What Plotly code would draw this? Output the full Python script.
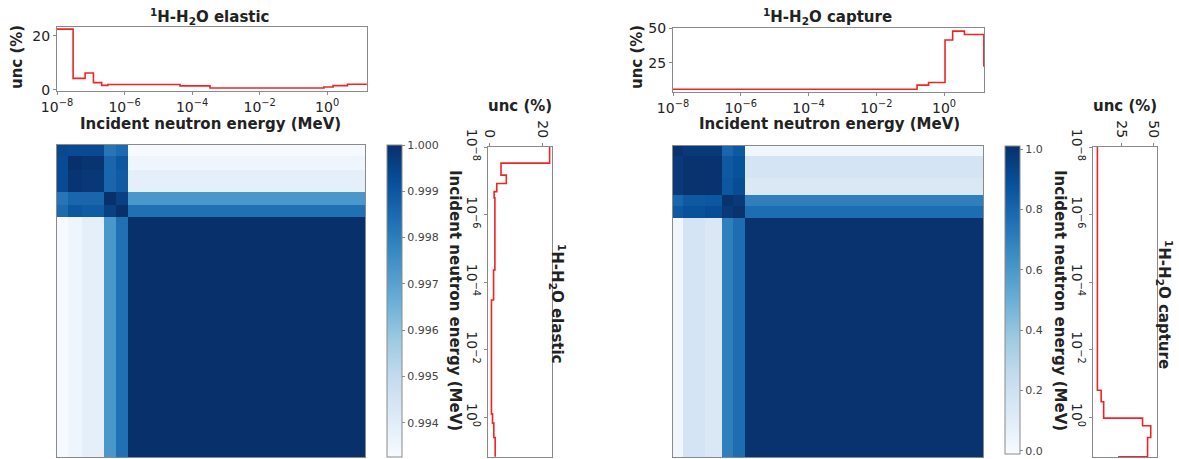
import plotly.graph_objects as go

W, H = 1179, 459

# ---------------- data ----------------
# Uncertainty step data (step start energies in MeV, unc in %)
elastic_energy = [1e-8, 3.0e-8, 6.8e-8, 1.2e-7, 2.1e-7, 3.2e-7, 4.4e-5, 3.4e-4, 0.8, 1.5, 4.0, 15.0]
elastic_unc = [22.5, 4.2, 6.2, 2.6, 1.6, 1.9, 1.4, 0.6, 1.0, 1.5, 2.0, 2.0]

capture_energy = [1e-8, 0.16, 0.35, 1.07, 1.8, 4.0, 15.0]
capture_unc = [5.5, 8.5, 10.5, 41.5, 48.0, 45.5, 22.0]

# Correlation matrices on group structure (group edges in group-index units)
elastic_group_edges = [0, 3.6, 8.0, 15.2, 19.1, 23.0, 100]
elastic_corr = [
    [0.9994, 0.9993, 0.9993, 0.9982, 0.9985, 0.99330],
    [0.9993, 1.0000, 0.9999, 0.9986, 0.9990, 0.99355],
    [0.9993, 0.9999, 0.9998, 0.9986, 0.9989, 0.99390],
    [0.9982, 0.9986, 0.9986, 1.0000, 0.9996, 0.99730],
    [0.9985, 0.9990, 0.9989, 0.9996, 1.0000, 0.99835],
    [0.99330, 0.99355, 0.99390, 0.99730, 0.99835, 1.0000],
]

capture_group_edges = [0, 3.2, 10.3, 15.8, 19.4, 23.2, 100]
capture_corr = [
    [1.00, 0.97, 0.97, 0.80, 0.85, 0.03],
    [0.97, 1.00, 1.00, 0.85, 0.88, 0.17],
    [0.97, 1.00, 1.00, 0.86, 0.90, 0.14],
    [0.80, 0.85, 0.86, 1.00, 0.97, 0.70],
    [0.85, 0.88, 0.90, 0.97, 1.00, 0.77],
    [0.03, 0.17, 0.14, 0.70, 0.77, 1.00],
]

elastic_cbar_ticks = [0.994, 0.995, 0.996, 0.997, 0.998, 0.999, 1.000]
capture_cbar_ticks = [0.0, 0.2, 0.4, 0.6, 0.8, 1.0]
energy_tickvals = [1e-8, 1e-6, 1e-4, 1e-2, 1e0]
energy_ticktext = ["10<sup>−8</sup>", "10<sup>−6</sup>", "10<sup>−4</sup>", "10<sup>−2</sup>", "10<sup>0</sup>"]

elastic_title = "<b><sup>1</sup>H-H<sub>2</sub>O elastic</b>"
capture_title = "<b><sup>1</sup>H-H<sub>2</sub>O capture</b>"
energy_label = "<b>Incident neutron energy (MeV)</b>"
unc_label = "<b>unc (%)</b>"

# ---------------- style ----------------
FONT = "DejaVu Sans"
RED = "#f02424"
FRAME = "#8a8a8a"
TXT = "#222222"
BLUES = [
    [0.0, "rgb(247,251,255)"], [0.125, "rgb(222,235,247)"], [0.25, "rgb(198,219,239)"],
    [0.375, "rgb(158,202,225)"], [0.5, "rgb(107,174,214)"], [0.625, "rgb(66,146,198)"],
    [0.75, "rgb(33,113,181)"], [0.875, "rgb(8,81,156)"], [1.0, "rgb(8,48,107)"],
]
LOG_RANGE = [-8, 1.18]


def fx(p):
    return p / W


def fy(p):
    return 1 - p / H


def frame(**kw):
    d = dict(showline=True, mirror=True, linecolor=FRAME, linewidth=1, showgrid=False,
             zeroline=False, ticks="outside", ticklen=3, tickcolor=FRAME,
             tickfont=dict(family=FONT, size=14, color=TXT))
    d.update(kw)
    return d


fig = go.Figure()

panels = [
    dict(energy=elastic_energy, unc=elastic_unc, edges=elastic_group_edges, corr=elastic_corr,
         zmin=0.99326, zmax=1.0, cticks=elastic_cbar_ticks, cfmt=".3f",
         top_x=(57, 367), top_y=(27, 91), hm_x=(57, 365), hm_y=(145, 457),
         cb_x=387, cb_y=(145, 457), side_x=(488, 552), side_y=(147, 457),
         unc_top_range=[-0.5, 23.3], unc_ticks=[0, 20], title=elastic_title,
         title_x=210, ylab_x=17, xlab_x=210, elab_x=455, side_unc_x=520, side_title_x=558),
    dict(energy=capture_energy, unc=capture_unc, edges=capture_group_edges, corr=capture_corr,
         zmin=-0.01, zmax=1.01, cticks=capture_cbar_ticks, cfmt=".1f",
         top_x=(673, 984), top_y=(28, 92), hm_x=(673, 983), hm_y=(146, 457),
         cb_x=1005, cb_y=(146, 454), side_x=(1093, 1157), side_y=(147, 457),
         unc_top_range=[3.5, 50.3], unc_ticks=[25, 50], title=capture_title,
         title_x=828, ylab_x=637, xlab_x=829, elab_x=1060, side_unc_x=1125, side_title_x=1165),
]

layout = dict(width=W, height=H, margin=dict(l=0, r=0, t=0, b=0, autoexpand=False),
              paper_bgcolor="white", plot_bgcolor="white", showlegend=False,
              font=dict(family=FONT, color=TXT))
annotations = []

for i, p in enumerate(panels):
    k = 3 * i
    ax_top, ax_hm, ax_side = k + 1, k + 2, k + 3

    # top uncertainty histogram
    fig.add_trace(go.Scatter(x=p["energy"], y=p["unc"], mode="lines", line_shape="hv",
                             line=dict(color=RED, width=1.6),
                             xaxis=f"x{ax_top}", yaxis=f"y{ax_top}", cliponaxis=True))
    layout[f"xaxis{ax_top}"] = frame(type="log", range=LOG_RANGE, domain=[fx(p["top_x"][0]), fx(p["top_x"][1])],
                                     anchor=f"y{ax_top}", tickvals=energy_tickvals, ticktext=energy_ticktext,
                                     automargin=False)
    layout[f"yaxis{ax_top}"] = frame(range=p["unc_top_range"], domain=[fy(p["top_y"][1]), fy(p["top_y"][0])],
                                     anchor=f"x{ax_top}", tickvals=p["unc_ticks"], automargin=False)

    # correlation heatmap
    fig.add_trace(go.Heatmap(x=p["edges"], y=p["edges"], z=p["corr"], colorscale=BLUES,
                             zmin=p["zmin"], zmax=p["zmax"], xaxis=f"x{ax_hm}", yaxis=f"y{ax_hm}",
                             colorbar=dict(x=fx(p["cb_x"]), xanchor="left", thickness=15,
                                           lenmode="pixels", len=p["cb_y"][1] - p["cb_y"][0],
                                           y=fy(p["cb_y"][0]), yanchor="top", xpad=0, ypad=0,
                                           tickvals=p["cticks"], tickformat=p["cfmt"],
                                           ticks="outside", ticklen=3, tickcolor=FRAME,
                                           outlinecolor=FRAME, outlinewidth=1,
                                           tickfont=dict(family=FONT, size=11, color="#444444"))))
    layout[f"xaxis{ax_hm}"] = dict(domain=[fx(p["hm_x"][0]), fx(p["hm_x"][1])], range=[0, 100],
                                   anchor=f"y{ax_hm}", showticklabels=False, ticks="",
                                   showline=True, mirror=True, linecolor=FRAME, linewidth=1,
                                   showgrid=False, zeroline=False)
    layout[f"yaxis{ax_hm}"] = dict(domain=[fy(p["hm_y"][1]), fy(p["hm_y"][0])], range=[100, 0],
                                   anchor=f"x{ax_hm}", showticklabels=False, ticks="",
                                   showline=True, mirror=True, linecolor=FRAME, linewidth=1,
                                   showgrid=False, zeroline=False)

    # side (rotated) uncertainty plot
    fig.add_trace(go.Scatter(x=p["unc"], y=p["energy"], mode="lines", line_shape="vh",
                             line=dict(color=RED, width=1.6),
                             xaxis=f"x{ax_side}", yaxis=f"y{ax_side}"))
    side_range = [-0.7, 23.4] if i == 0 else [2.0, 53.0]
    layout[f"xaxis{ax_side}"] = frame(range=side_range, domain=[fx(p["side_x"][0]), fx(p["side_x"][1])],
                                      anchor=f"y{ax_side}", side="top", tickvals=p["unc_ticks"],
                                      tickangle=90, automargin=False)
    layout[f"yaxis{ax_side}"] = frame(type="log", range=[LOG_RANGE[1], LOG_RANGE[0]],
                                      domain=[fy(p["side_y"][1]), fy(p["side_y"][0])],
                                      anchor=f"x{ax_side}", tickvals=energy_tickvals,
                                      ticktext=energy_ticktext, tickangle=90, automargin=False)

    # texts
    annotations += [
        dict(text=p["title"], x=fx(p["title_x"]), y=fy(16), font=dict(size=15)),
        dict(text=unc_label, x=fx(p["ylab_x"]), y=fy(57), textangle=-90, font=dict(size=15)),
        dict(text=energy_label, x=fx(p["xlab_x"]), y=fy(124), font=dict(size=15)),
        dict(text=energy_label, x=fx(p["elab_x"]), y=fy(300), textangle=90, font=dict(size=15)),
        dict(text=unc_label, x=fx(p["side_unc_x"]), y=fy(106), font=dict(size=15)),
        dict(text=p["title"], x=fx(p["side_title_x"]), y=fy(304), textangle=90, font=dict(size=15)),
    ]

for a in annotations:
    a.update(xref="paper", yref="paper", showarrow=False, xanchor="center", yanchor="middle")
    a["font"].update(family=FONT, color=TXT)

layout["annotations"] = annotations
fig.update_layout(**layout)
fig.write_html("out.html")
